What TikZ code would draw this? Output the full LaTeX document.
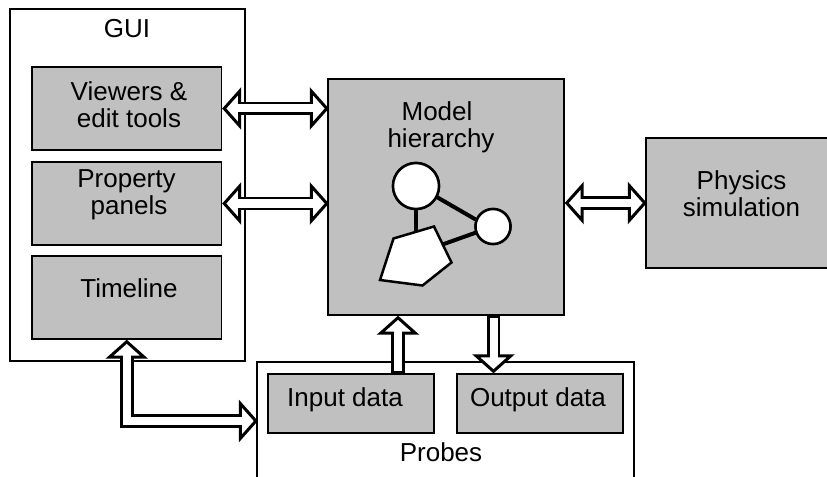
\documentclass[tikz,border=0pt]{standalone}
\usepackage{fontspec}
\setmainfont{Liberation Sans}
\usetikzlibrary{arrows.meta}
\definecolor{boxgrey}{RGB}{192,192,192}
\tikzset{
  whitebox/.style={draw=black,fill=white,line width=0.024cm,inner sep=0pt},
  greybox/.style={draw=black,fill=boxgrey,line width=0.028cm,inner sep=0pt},
  boxtext/.style={align=center,inner sep=0pt,font=\fontsize{14.8}{15.2}\selectfont},
  bighead/.tip={Triangle[open,fill=white,length=0.38cm,width=0.84cm,line width=0.06cm]},
  bigboth/.style={line width=0.27cm,bighead-bighead,shorten >=-0.03cm,
    postaction={draw=white,line width=0.16cm,-,shorten <=0.28cm,shorten >=0.25cm}},
  bigone/.style={line width=0.27cm,-bighead,
    postaction={draw=white,line width=0.16cm,-,shorten <=0.055cm,shorten >=0.28cm}},
  blob/.style={circle,draw=black,fill=white,line width=0.05cm,inner sep=0pt},
  link/.style={line width=0.08cm}
}
\begin{document}
\begin{tikzpicture}
\useasboundingbox (0,0) rectangle (16.54,9.52);

\node[whitebox,minimum width=4.7cm,minimum height=7.04cm](gui) at (2.55,5.82){};
\node[whitebox,minimum width=7.54cm,minimum height=2.36cm](probes) at (8.91,1.1){};
\node[greybox,minimum width=3.79cm,minimum height=1.66cm](viewers) at (2.535,7.35){};
\node[greybox,minimum width=3.79cm,minimum height=1.66cm](panels) at (2.535,5.45){};
\node[greybox,minimum width=3.79cm,minimum height=1.66cm](timeline) at (2.535,3.57){};
\node[greybox,minimum width=4.72cm,minimum height=4.72cm](model) at (8.92,5.58){};
\node[greybox,minimum width=3.84cm,minimum height=2.6cm](physics) at (14.84,5.46){};
\node[greybox,minimum width=3.32cm,minimum height=1.18cm](input) at (7.02,1.45){};
\node[greybox,minimum width=3.32cm,minimum height=1.18cm](output) at (10.8,1.45){};

\node[boxtext](guitext) at (2.54,8.94){GUI};
\node[boxtext](viewerstext) at (2.58,7.43){Viewers \&\\edit tools};
\node[boxtext](panelstext) at (2.53,5.62){Property\\\hspace*{0.1cm}panels};
\node[boxtext](timelinetext) at (2.58,3.76){Timeline};
\node[boxtext](modeltext) at (8.82,6.98){Model\hspace*{0.16cm}\\hierarchy};
\node[boxtext](physicstext) at (14.83,5.64){Physics\\simulation};
\node[boxtext](inputtext) at (6.9,1.53){Input data};
\node[boxtext](outputtext) at (10.76,1.53){Output data};
\node[boxtext](probestext) at (8.82,0.47){Probes};

\coordinate (inport) at (7.96,1.45);
\coordinate (outport) at (9.87,1.45);
\draw[bigboth](viewers.east)--(viewers.east -| model.west);
\draw[bigboth](panels.east)--(panels.east -| model.west);
\draw[bigboth](model.east |- physics.west)--(physics.west);
\draw[bigone](inport |- input.north)--(inport |- model.south);
\draw[bigone](outport |- model.south)--(outport |- output.north);
\draw[bigboth](timeline.south)|-(probes.west);

\node[blob,minimum size=0.92cm](bigblob) at (8.32,5.8){};
\node[blob,minimum size=0.7cm](smallblob) at (9.86,4.99){};
\coordinate (penta1) at (7.87,4.75);
\coordinate (penta2) at (8.68,4.99);
\coordinate (penta3) at (9.03,4.27);
\coordinate (penta4) at (8.45,3.81);
\coordinate (penta5) at (7.6,3.92);
\coordinate (pentatop) at (8.32,4.7);
\coordinate (pentaside) at (8.85,4.63);
\draw[link](bigblob.-28)--(smallblob.158);
\draw[link](bigblob)--(pentatop);
\draw[link](smallblob)--(pentaside);
\node[blob,minimum size=0.92cm] at (bigblob){};
\node[blob,minimum size=0.7cm] at (smallblob){};
\filldraw[fill=white,line width=0.05cm](penta1)--(penta2)--(penta3)--(penta4)--(penta5)--cycle;
\end{tikzpicture}
\end{document}
